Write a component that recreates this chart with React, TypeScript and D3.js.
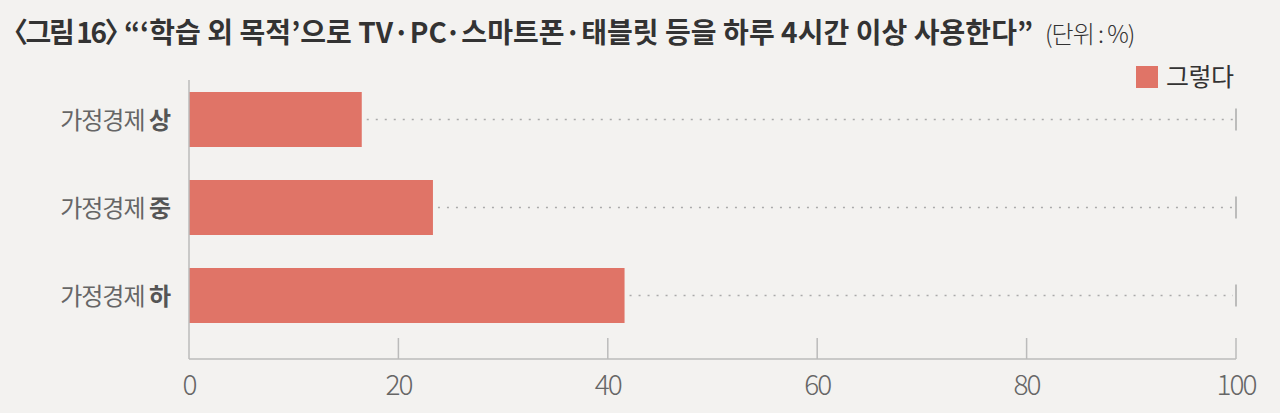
import React from "react";
import * as d3 from "d3";

const categories = ["상", "중", "하"];
const values = [16.5, 23.3, 41.6];
const xTicks = [0, 20, 40, 60, 80, 100];
const seriesName = "그렇다";

const W = 1280;
const H = 413;
const BG = "#f3f2f0";
const BAR = "#e07467";
const FONT = "'Noto Sans CJK KR', 'Noto Sans', sans-serif";

export default function App() {
  const x = d3.scaleLinear().domain([0, 100]).range([189, 1236]);
  const y = d3.scaleBand().domain(categories).range([74.4, 340.6]).paddingInner(0.375).paddingOuter(0.2);
  const axisY = 359;

  return (
    <svg width={W} height={H} style={{ display: "block", position: "absolute", left: 0, top: 0, background: BG }}>
      <rect x={0} y={0} width={W} height={H} fill={BG} />
      {/* title */}
      <text y={43} fontFamily={FONT} fontSize={28} fill="#333">
        <tspan x={0} fontWeight={700} letterSpacing={-2.4}>〈그림 16〉</tspan>
        <tspan x={124} fontWeight={700} letterSpacing={0.05}>“‘학습 외 목적’으로 TV·PC·스마트폰·태블릿 등을 하루 4시간 이상 사용한다”</tspan>
        <tspan x={1045} fontWeight={300} fontSize={24} letterSpacing={-1}>(단위 : %)</tspan>
      </text>

      {/* legend */}
      <rect x={1136} y={66} width={22} height={22} fill={BAR} />
      <text x={1166} y={86} fontFamily={FONT} fontSize={25} fill="#333" letterSpacing={-0.5}>{seriesName}</text>

      {/* dotted guides */}
      {categories.map((c, i) => {
        const cy = (y(c) as number) + y.bandwidth() / 2;
        return (
          <g key={"g" + c}>
            <line x1={x(values[i]) + 5} x2={x(100) - 3} y1={cy} y2={cy} stroke="#aaa" strokeWidth={1.3} strokeDasharray="2 7" />
            <line x1={x(100)} x2={x(100)} y1={cy - 11} y2={cy + 11} stroke="#aaa" strokeWidth={1.5} />
          </g>
        );
      })}

      {/* bars */}
      {categories.map((c, i) => (
        <rect key={c} x={x(0)} y={y(c) as number} width={x(values[i]) - x(0)} height={y.bandwidth()} fill={BAR} />
      ))}

      {/* category labels */}
      {categories.map((c) => {
        const cy = (y(c) as number) + y.bandwidth() / 2;
        return (
          <text key={"l" + c} x={170} y={cy + 9} textAnchor="end" fontFamily={FONT} fontSize={24} fill="#666" letterSpacing={-1}>
            <tspan fontWeight={400}>가정경제 </tspan>
            <tspan fontWeight={700} fill="#555">{c}</tspan>
          </text>
        );
      })}

      {/* axes */}
      <line x1={x(0)} x2={x(0)} y1={80} y2={axisY} stroke="#bbb" strokeWidth={1.5} />
      <line x1={x(0)} x2={x(100)} y1={axisY} y2={axisY} stroke="#bbb" strokeWidth={1.5} />
      {xTicks.map((t) => (
        <g key={"t" + t}>
          {t > 0 && <line x1={x(t)} x2={x(t)} y1={axisY - 21} y2={axisY} stroke="#bbb" strokeWidth={1.5} />}
          <text x={x(t)} y={395} textAnchor="middle" fontFamily={FONT} fontWeight={300} fontSize={28} fill="#666" letterSpacing={-2}>
            {t}
          </text>
        </g>
      ))}
    </svg>
  );
}
